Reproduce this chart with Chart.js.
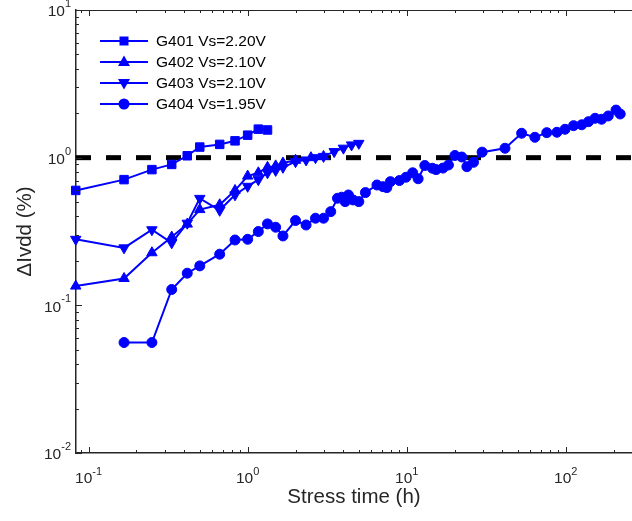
<!DOCTYPE html>
<html>
<head>
<meta charset="utf-8">
<script src="https://cdn.jsdelivr.net/npm/chart.js@4/dist/chart.umd.min.js"></script>
<style>
  html, body { margin: 0; background: #fff; overflow: hidden; }
  canvas { display: block; }
</style>
</head>
<body>
<canvas id="myChart" width="639" height="521"></canvas>
<script>
// data (time in hours, delta Ivdd in %)
const g401Time = [0.083, 0.167, 0.25, 0.333, 0.417, 0.5, 0.667, 0.833, 1, 1.167, 1.333];
const g401Val = [0.60, 0.71, 0.83, 0.90, 1.03, 1.18, 1.23, 1.30, 1.42, 1.56, 1.54];

const g402Time = [0.083, 0.167, 0.25, 0.333, 0.417, 0.5, 0.667, 0.833, 1, 1.167, 1.333, 1.5, 1.667, 2, 2.5, 3];
const g402Val = [0.135, 0.152, 0.227, 0.29, 0.355, 0.445, 0.48, 0.60, 0.75, 0.79, 0.86, 0.88, 0.92, 0.96, 1.0, 1.02];

const g403Time = [0.083, 0.167, 0.25, 0.333, 0.417, 0.5, 0.667, 0.833, 1, 1.167, 1.333, 1.5, 1.667, 2, 2.33, 2.67, 3, 3.5, 4, 4.5, 5];
const g403Val = [0.28, 0.245, 0.325, 0.265, 0.36, 0.53, 0.44, 0.56, 0.64, 0.71, 0.79, 0.82, 0.86, 0.94, 0.965, 1.0, 1.02, 1.10, 1.16, 1.22, 1.25];

const g404Time = [0.167, 0.25, 0.333, 0.417, 0.5, 0.667, 0.833, 1, 1.167, 1.333, 1.5, 1.667, 2, 2.33, 2.67, 3, 3.33,
  3.67, 3.9, 4.1, 4.3, 4.6, 5, 5.5, 6.5, 7.1, 7.5, 7.9, 9, 9.9, 10.9, 11.8, 13, 14.5, 15.3, 16.9, 18.3, 20.1, 22.2,
  23.9, 26.3, 29.8, 41.5, 52.8, 64, 76, 88, 99, 112, 126, 139, 153, 168, 185, 207, 220];
const g404Val = [0.056, 0.056, 0.128, 0.165, 0.185, 0.222, 0.277, 0.280, 0.316, 0.356, 0.338, 0.295, 0.375, 0.350, 0.389, 0.389, 0.431,
  0.531, 0.540, 0.504, 0.559, 0.517, 0.504, 0.580, 0.653, 0.636, 0.627, 0.688, 0.700, 0.737, 0.790, 0.720, 0.885, 0.848, 0.830, 0.850, 0.892, 1.035, 1.010,
  0.869, 0.930, 1.09, 1.158, 1.463, 1.374, 1.477, 1.486, 1.557, 1.647, 1.670, 1.753, 1.848, 1.820, 1.916, 2.10, 1.976];

const seriesNames = ['G401 Vs=2.20V', 'G402 Vs=2.10V', 'G403 Vs=2.10V', 'G404 Vs=1.95V'];
const refTime = [0.0833, 261];
const refVal = [1, 1];

// tick labels are 10^n
const xDecades = [-1, 0, 1, 2];
const yDecades = [-2, -1, 0, 1];

const blue = '#0000ff';
const axisColor = '#262626';
const fontFam = '"Liberation Sans", Arial, sans-serif';

const pts = (t, v) => t.map((x, i) => ({x: x, y: v[i]}));

const mkSeries = (label, t, v, style, rot, radius) => ({
  label: label,
  data: pts(t, v),
  borderColor: blue,
  backgroundColor: blue,
  borderWidth: 2,
  pointStyle: style,
  rotation: rot,
  pointRadius: radius,
  pointBorderWidth: 1,
  pointBackgroundColor: blue,
  pointBorderColor: blue,
  clip: false
});

// inward ticks, top frame line and 10^n labels
const frame = {
  id: 'frame',
  afterDraw(chart) {
    const ctx = chart.ctx;
    const a = chart.chartArea;
    const xs = chart.scales.x, ys = chart.scales.y;
    ctx.save();
    ctx.strokeStyle = axisColor;
    ctx.lineWidth = 1;
    ctx.beginPath();
    ctx.moveTo(a.left, a.top + 0.5);
    ctx.lineTo(a.right, a.top + 0.5);
    ctx.stroke();

    const tick = (px, len, horiz) => {
      if (horiz) {
        ctx.moveTo(px, a.bottom); ctx.lineTo(px, a.bottom - len);
        ctx.moveTo(px, a.top); ctx.lineTo(px, a.top + len);
      } else {
        ctx.moveTo(a.left, px); ctx.lineTo(a.left + len, px);
      }
    };
    ctx.beginPath();
    for (let d = -2; d <= 2; d++) {
      for (let k = 1; k <= 9; k++) {
        const v = k * Math.pow(10, d);
        const len = k === 1 ? 6 : 3;
        if (v >= xs.min && v <= xs.max) tick(Math.round(xs.getPixelForValue(v)) + 0.5, len, true);
        if (v >= ys.min && v <= ys.max) tick(Math.round(ys.getPixelForValue(v)) + 0.5, len, false);
      }
    }
    ctx.stroke();

    ctx.fillStyle = axisColor;
    ctx.textBaseline = 'middle';
    const base = '15.5px ' + fontFam, sup = '11px ' + fontFam;
    xDecades.forEach(d => {
      const px = xs.getPixelForValue(Math.pow(10, d));
      ctx.font = base; const w1 = ctx.measureText('10').width;
      ctx.font = sup; const w2 = ctx.measureText(String(d)).width;
      const x0 = px - (w1 + w2) / 2;
      ctx.font = base; ctx.textAlign = 'left';
      ctx.fillText('10', x0, a.bottom + 26);
      ctx.font = sup;
      ctx.fillText(String(d), x0 + w1, a.bottom + 19);
    });
    yDecades.forEach(d => {
      const py = ys.getPixelForValue(Math.pow(10, d));
      ctx.font = sup; const w2 = ctx.measureText(String(d)).width;
      ctx.font = base; const w1 = ctx.measureText('10').width;
      const x0 = a.left - 5 - w2 - w1;
      ctx.textAlign = 'left';
      ctx.fillText('10', x0, py + 2);
      ctx.font = sup;
      ctx.fillText(String(d), x0 + w1, py - 6);
    });

    // legend
    const styles = ['rect', 'tri', 'tridown', 'circle'];
    styles.forEach((s, i) => {
      const y = 41 + i * 21;
      ctx.strokeStyle = blue; ctx.fillStyle = blue; ctx.lineWidth = 2;
      ctx.beginPath(); ctx.moveTo(100, y); ctx.lineTo(148, y); ctx.stroke();
      const cx = 124;
      ctx.beginPath();
      if (s === 'rect') ctx.rect(cx - 4.5, y - 4.5, 9, 9);
      else if (s === 'tri') { ctx.moveTo(cx, y - 6.5); ctx.lineTo(cx + 6, y + 4); ctx.lineTo(cx - 6, y + 4); ctx.closePath(); }
      else if (s === 'tridown') { ctx.moveTo(cx, y + 6.5); ctx.lineTo(cx + 6, y - 4); ctx.lineTo(cx - 6, y - 4); ctx.closePath(); }
      else ctx.arc(cx, y, 5.5, 0, Math.PI * 2);
      ctx.fill();
      ctx.fillStyle = '#000';
      ctx.font = '15.5px ' + fontFam;
      ctx.textAlign = 'left';
      ctx.textBaseline = 'middle';
      ctx.fillText(seriesNames[i], 156, y + 1);
    });
    ctx.restore();
  }
};

const config = {
  type: 'line',
  data: {
    datasets: [
      mkSeries(seriesNames[0], g401Time, g401Val, 'rect', 0, 6),
      mkSeries(seriesNames[1], g402Time, g402Val, 'triangle', 0, 6),
      mkSeries(seriesNames[2], g403Time, g403Val, 'triangle', 180, 6),
      mkSeries(seriesNames[3], g404Time, g404Val, 'circle', 0, 5),
      {
        label: 'ref',
        data: pts(refTime, refVal),
        borderColor: '#000',
        borderWidth: 5,
        borderDash: [15, 15],
        pointRadius: 0,
        order: 10
      }
    ]
  },
  options: {
    responsive: false,
    animation: false,
    layout: { padding: { top: 10, right: 0, left: 0, bottom: 0 } },
    plugins: { legend: { display: false }, tooltip: { enabled: false } },
    scales: {
      x: {
        type: 'logarithmic',
        min: 0.0833,
        max: 261,
        grid: { display: false },
        border: { display: true, color: axisColor, width: 1.5 },
        ticks: { display: false },
        title: { display: true, text: 'Stress time (h)', color: axisColor, font: { size: 20.5, family: fontFam }, padding: { top: 0, bottom: 11 } },
        afterFit(scale) { scale.height = 68; }
      },
      y: {
        type: 'logarithmic',
        min: 0.01,
        max: 10,
        grid: { display: false },
        border: { display: true, color: axisColor, width: 1.5 },
        ticks: { display: false },
        title: { display: true, text: 'ΔIvdd (%)', color: axisColor, font: { size: 20.5, family: fontFam }, padding: { top: 13, bottom: 0 } },
        afterFit(scale) { scale.width = 76; }
      }
    }
  },
  plugins: [frame]
};

const myChart = new Chart(document.getElementById('myChart'), config);
</script>
</body>
</html>
